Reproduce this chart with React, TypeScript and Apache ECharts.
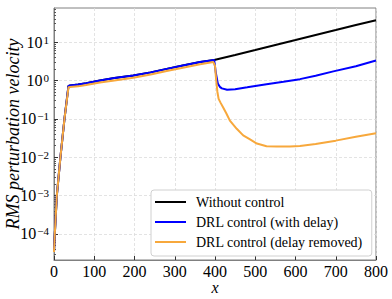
import React, { useEffect, useRef } from "react";
import * as echarts from "echarts";

const FONT = "Liberation Serif";

const xBlack = [0, 2, 7, 16, 26, 36, 40, 60, 80, 114, 150, 197, 240, 280, 320, 363, 398, 450, 500, 550, 600, 650, 700, 750, 800];
const yBlack = [3.4e-5, 1e-4, 1e-3, 1e-2, 0.1, 0.72, 0.74, 0.78, 0.85, 1.0, 1.15, 1.35, 1.62, 2.0, 2.45, 3.0, 3.4, 4.6, 6.2, 8.4, 11.3, 15.3, 20.5, 27.7, 37];

const xBlue = [0, 2, 7, 16, 26, 36, 40, 60, 80, 114, 150, 197, 240, 280, 320, 363, 398, 402, 407, 412, 417, 430, 450, 480, 528, 570, 611, 650, 694, 750, 800];
const yBlue = [3.4e-5, 1e-4, 1e-3, 1e-2, 0.1, 0.72, 0.74, 0.78, 0.85, 1.0, 1.15, 1.35, 1.62, 2.0, 2.45, 3.0, 3.4, 1.6, 0.83, 0.68, 0.62, 0.57, 0.59, 0.66, 0.79, 0.92, 1.08, 1.33, 1.72, 2.35, 3.3];

const xOrange = [0, 2, 7, 16, 26, 36, 40, 60, 80, 114, 150, 197, 240, 280, 320, 363, 396, 400, 403, 406, 409, 414, 420, 428, 437, 454, 470, 487, 504, 528, 553, 586, 611, 650, 700, 750, 800];
const yOrange = [3.4e-5, 1e-4, 1e-3, 1e-2, 0.1, 0.66, 0.67, 0.7, 0.76, 0.88, 1.0, 1.18, 1.42, 1.75, 2.15, 2.65, 3.0, 2.4, 1.0, 0.5, 0.33, 0.26, 0.2, 0.14, 0.09, 0.055, 0.037, 0.029, 0.0227, 0.0193, 0.019, 0.019, 0.0195, 0.022, 0.027, 0.034, 0.042];

const seriesNames = ["Without control", "DRL control (with delay)", "DRL control (delay removed)"];
const seriesColors = ["#000000", "#0000ff", "#f7a83c"];

const xTicks = [0, 100, 200, 300, 400, 500, 600, 700, 800];
const yMajor = [1e-4, 1e-3, 1e-2, 1e-1, 1, 10];
const yMin = 2.1e-5;
const yMax = 77;

function minorValues(): number[] {
  const out: number[] = [];
  for (let e = -5; e <= 1; e++) {
    for (let m = 2; m <= 9; m++) {
      const v = m * Math.pow(10, e);
      if (v > yMin && v < yMax) out.push(v);
    }
  }
  return out;
}

function pairs(xs: number[], ys: number[]) {
  return xs.map((x, i) => [x, ys[i]]);
}

export default function App() {
  const ref = useRef<HTMLDivElement>(null);
  useEffect(() => {
    if (!ref.current) return;
    const chart = echarts.init(ref.current, undefined, { renderer: "svg" });
    const data = [pairs(xBlack, yBlack), pairs(xBlue, yBlue), pairs(xOrange, yOrange)];
    chart.setOption({
      animation: false,
      textStyle: { fontFamily: FONT },
      grid: {
        left: 54,
        right: 16,
        top: 8,
        bottom: 39,
        show: true,
        borderColor: "#808080",
        borderWidth: 1,
        outerBoundsMode: "none",
        containLabel: false,
      },
      legend: {
        orient: "vertical",
        left: 151,
        top: 190,
        padding: [2, 9, 4, 4],
        itemGap: 0,
        itemWidth: 31,
        itemHeight: 2,
        icon: "rect",
        backgroundColor: "#ffffff",
        borderColor: "#d0d0d0",
        borderWidth: 1,
        borderRadius: 3,
        textStyle: {
          fontFamily: FONT,
          fontSize: 14,
          color: "#000",
          lineHeight: 20,
          padding: [0, 0, 0, 5],
        },
        data: seriesNames,
      },
      xAxis: {
        type: "value",
        min: 0,
        max: 800,
        interval: 100,
        name: "x",
        nameLocation: "middle",
        nameGap: 21,
        nameMoveOverlap: false,
        nameTextStyle: { fontFamily: FONT, fontSize: 16, lineHeight: 12, fontStyle: "italic", color: "#000" },
        axisLine: { show: true, lineStyle: { color: "#808080", width: 1 } },
        axisTick: { show: true, inside: true, length: 4, lineStyle: { color: "#333" }, customValues: xTicks },
        axisLabel: { fontFamily: FONT, fontSize: 16, lineHeight: 16, color: "#000", margin: 3, customValues: xTicks },
        splitLine: { show: true, lineStyle: { color: "#dcdcdc", type: [3, 2], width: 0.8 } },
      },
      yAxis: [
        {
          type: "log",
          logBase: 10,
          min: yMin,
          max: yMax,
          name: "RMS perturbation velocity",
          nameLocation: "middle",
          nameGap: 32,
          nameMoveOverlap: false,
          nameTextStyle: { fontFamily: FONT, fontSize: 18, fontStyle: "italic", color: "#000" },
          axisLine: { show: true, lineStyle: { color: "#808080", width: 1 } },
          axisTick: { show: true, inside: true, length: 4, lineStyle: { color: "#333" }, customValues: yMajor },
          axisLabel: {
            customValues: yMajor,
            margin: 5,
            formatter: (v: number) => {
              const e = Math.round(Math.log10(v));
              const s = e < 0 ? "\u2212" + Math.abs(e) : String(e);
              return `{b|10}{s|${s}}`;
            },
            rich: {
              b: { fontFamily: FONT, fontSize: 16, lineHeight: 16, color: "#000", verticalAlign: "bottom" },
              s: { fontFamily: FONT, fontSize: 11, lineHeight: 11, color: "#000", verticalAlign: "top", padding: [0, 0, 10, 1] },
            },
          },
          splitLine: { show: true, lineStyle: { color: "#dcdcdc", type: [3, 2], width: 0.8 } },
        },
        {
          type: "log",
          logBase: 10,
          min: yMin,
          max: yMax,
          position: "left",
          axisLine: { show: false },
          axisLabel: { show: false },
          splitLine: { show: false },
          axisTick: { show: true, inside: true, length: 2, lineStyle: { color: "#555" }, customValues: minorValues() },
        },
      ],
      series: seriesNames.map((name, i) => ({
        name,
        type: "line",
        data: data[i],
        showSymbol: false,
        symbol: "none",
        color: seriesColors[i],
        lineStyle: { color: seriesColors[i], width: 2 },
        z: 2 + i,
      })),
    });
    return () => chart.dispose();
  }, []);
  return <div ref={ref} style={{ width: 392, height: 299, position: "absolute", left: 0, top: 0 }} />;
}
